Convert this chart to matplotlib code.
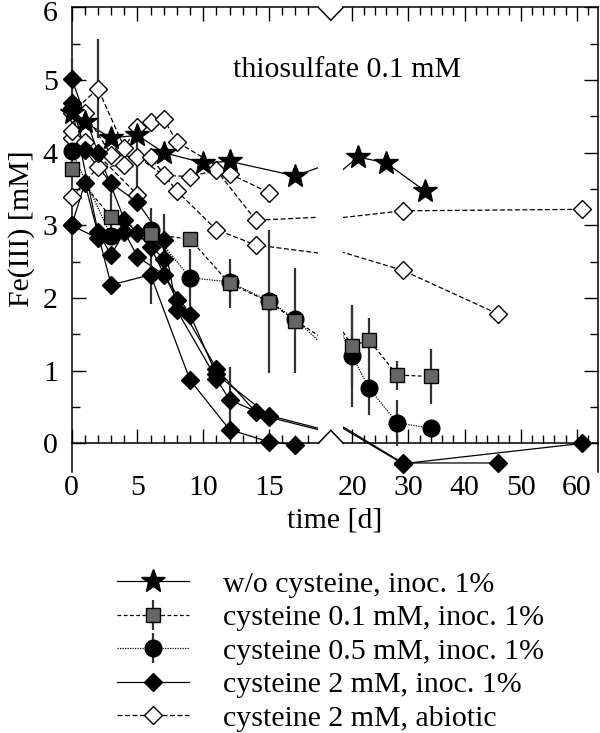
import numpy as np
import matplotlib.pyplot as plt
from matplotlib.ticker import MultipleLocator
from matplotlib.lines import Line2D
from matplotlib.transforms import ScaledTranslation

plt.rcParams['font.family'] = ['Liberation Serif', 'DejaVu Serif']
plt.rcParams['font.size'] = 21.5

# w/o cysteine, inoc. 1%
star_t = [0, 1, 3, 5, 7, 10, 12, 17, 21, 26, 33]
star_y = [4.55, 4.42, 4.2, 4.24, 4.0, 3.86, 3.88, 3.68, 3.94, 3.86, 3.47]

# cysteine 0.1 mM, inoc. 1%
sq_t = [0, 3, 6, 9, 12, 15, 17, 20, 23, 28, 34]
sq_y = [3.77, 3.11, 2.88, 2.81, 2.2, 1.95, 1.69, 1.34, 1.42, 0.94, 0.92]
sq_err = [0, 0.33, 0, 0, 0.34, 0.98, 0.72, 0.57, 0.3, 0.2, 0.38]

# cysteine 0.5 mM, inoc. 1%
circ_t = [0, 3, 6, 9, 12, 15, 17, 20, 23, 28, 34]
circ_y = [4.02, 2.85, 2.94, 2.28, 2.22, 1.96, 1.71, 1.2, 0.76, 0.28, 0.21]
circ_err = [0, 0, 0.3, 0.39, 0, 0, 0, 0.7, 0.37, 0.32, 0]

# cysteine 2 mM, inoc. 1% (replicates)
d1_t = [0, 2, 4, 6, 8, 11, 14, 29, 46]
d1_y = [5.02, 4.0, 3.08, 2.70, 1.97, 1.03, 0.43, -0.27, -0.27]
d1_err = [0.28, 0, 0, 0, 0, 0, 0, 0, 0]
d2_t = [0, 1, 3, 5, 7, 8, 11, 12, 15, 29, 61]
d2_y = [4.69, 4.03, 3.58, 3.32, 2.80, 1.83, 0.89, 0.6, 0.36, -0.28, 0.0]
d2_err = [0, 0, 0, 0, 0.35, 0, 0, 0.45, 0, 0, 0]
d3_t = [0, 1, 3, 6, 9, 12, 15, 17]
d3_y = [3.0, 3.58, 2.18, 2.32, 0.87, 0.19, 0.02, -0.02]
d3_err = [0, 0, 0, 0.4, 0, 0, 0, 0]
d4_t = [0, 2, 3, 4, 5, 7, 9, 11, 15]
d4_y = [4.62, 2.91, 2.59, 2.91, 2.57, 2.32, 1.77, 0.95, 0.38]
d5_t = [0, 2, 5, 7]
d5_y = [3.0, 2.82, 2.89, 2.54]

# cysteine 2 mM, abiotic (replicates)
o1_t = [0, 2, 4, 5, 6, 7, 8, 12, 15]
o1_y = [4.55, 4.88, 4.07, 4.36, 4.42, 4.46, 4.15, 3.71, 3.45]
o1_err = [0, 0.68, 0, 0, 0, 0, 0, 0, 0]
o2_t = [0, 1, 3, 5, 7, 9, 11, 14, 29, 61]
o2_y = [4.2, 4.54, 3.97, 3.94, 3.69, 3.67, 3.76, 3.07, 3.2, 3.22]
o2_err = [0, 0, 0, 0.5, 0, 0, 0, 0, 0, 0]
o3_t = [0, 2, 4, 6, 8, 11, 14, 29, 46]
o3_y = [3.39, 3.80, 3.83, 3.94, 3.47, 2.94, 2.73, 2.38, 1.78]
o4_t = [0, 1, 5]
o4_y = [4.3, 4.15, 3.42]

labels = ['w/o cysteine, inoc. 1%', 'cysteine 0.1 mM, inoc. 1%',
          'cysteine 0.5 mM, inoc. 1%', 'cysteine 2 mM, inoc. 1%',
          'cysteine 2 mM, abiotic']

BREAK = 18.6

fig = plt.figure(figsize=(6, 7.33), dpi=100)
ax1 = fig.add_axes([0.1195, 0.3555, 0.411, 0.6345])
ax2 = fig.add_axes([0.5722, 0.3555, 0.424, 0.6345])


def draw(t, y, err, ls, marker, ms, fc):
    t = np.asarray(t, float)
    y = np.asarray(y, float)
    err = np.zeros_like(y) if err is None else np.asarray(err, float)
    for ax, mask in ((ax1, t <= BREAK), (ax2, t > BREAK)):
        ax.plot(t, y, color='k', ls=ls, lw=0.9, zorder=2)
        m2 = mask & (err > 0)
        if m2.any():
            ax.errorbar(t[m2], y[m2], yerr=err[m2], fmt='none', ecolor='0.2',
                        elinewidth=1.6, capsize=0, clip_on=False, zorder=3)
        ax.plot(t[mask], y[mask], ls='none', marker=marker, ms=ms, mfc=fc,
                mec='k', mew=1, clip_on=False, zorder=4)


dash = (0, (4, 2))
dot = (0, (1, 1))
for t, y, e in ((o1_t, o1_y, o1_err), (o2_t, o2_y, o2_err),
                (o3_t, o3_y, None), (o4_t, o4_y, None)):
    draw(t, y, e, dash, 'D', 9, 'white')
for t, y, e in ((d1_t, d1_y, d1_err), (d2_t, d2_y, d2_err),
                (d3_t, d3_y, d3_err), (d4_t, d4_y, None), (d5_t, d5_y, None)):
    draw(t, y, e, '-', 'D', 9, 'k')
draw(circ_t, circ_y, circ_err, dot, 'o', 12, 'k')
draw(sq_t, sq_y, sq_err, (0, (3, 2)), 's', 10, '0.4')
draw(star_t, star_y, None, '-', '*', 18, 'k')

ax1.set_xlim(0, 18.75)
ax2.set_xlim(18.4, 63.74)
for ax in (ax1, ax2):
    ax.set_ylim(-0.4, 6)
    ax.spines['bottom'].set_position(('data', 0))
    for s in ax.spines.values():
        s.set_linewidth(1.1)
    ax.yaxis.set_major_locator(MultipleLocator(1))
    ax.yaxis.set_minor_locator(MultipleLocator(0.5))
    ax.tick_params(which='major', direction='in', length=10, width=1,
                   top=True, pad=23, labelsize=21.5)
    ax.tick_params(which='minor', direction='in', length=5.5, width=1, top=True)
    ax.tick_params(axis='y', pad=10)

ax1.xaxis.set_major_locator(MultipleLocator(5))
ax1.xaxis.set_minor_locator(MultipleLocator(1))
ax2.xaxis.set_major_locator(MultipleLocator(10))
ax2.xaxis.set_minor_locator(MultipleLocator(2))

ax1.spines['right'].set_visible(False)
ax2.spines['left'].set_visible(False)
ax2.tick_params(axis='y', which='both', left=False, right=True, labelleft=False)

ax1.set_ylabel('Fe(III) [mM]')
ax1.yaxis.set_label_coords(-0.15, 0.525)
fig.text(0.557, 0.29, 'time [d]', ha='center', va='center')
fig.text(0.388, 0.904, 'thiosulfate 0.1 mM', ha='left', va='center')

# nudge the top "6" label down a little so it stays inside the picture
fig.canvas.draw()
for lab in ax1.get_yticklabels():
    if lab.get_text() == '6':
        lab.set_transform(lab.get_transform() +
                          ScaledTranslation(0, -3 / 72, fig.dpi_scale_trans))

# axis break marks
p1 = ax1.get_position()
p2 = ax2.get_position()
xa, xb = p1.x1, p2.x0
xm = (xa + xb) / 2
ytop = p1.y1
y0 = fig.transFigure.inverted().transform(ax1.transData.transform((0, 0)))[1]
dv = 13 / 733
fig.add_artist(Line2D([xa, xm, xb], [ytop, ytop - dv, ytop], color='k', lw=1.1))
fig.add_artist(Line2D([xa, xm, xb], [y0, y0 + dv, y0], color='k', lw=1.1))

# legend
h_star = Line2D([], [], color='k', lw=0.9, marker='*', ms=18, mfc='k', mec='k')
h_sq = ax1.errorbar([np.nan], [np.nan], yerr=[0.5], fmt='s', ls=(0, (3, 2)),
                    color='k', lw=0.9, mfc='0.4', mec='k', ms=10, ecolor='0.2',
                    elinewidth=1.6, capsize=0)
h_ci = ax1.errorbar([np.nan], [np.nan], yerr=[0.5], fmt='o', ls=dot,
                    color='k', lw=0.9, mfc='k', mec='k', ms=12, ecolor='0.2',
                    elinewidth=1.6, capsize=0)
h_di = Line2D([], [], color='k', lw=0.9, marker='D', ms=9, mfc='k', mec='k')
h_od = Line2D([], [], color='k', lw=0.9, ls=dash, marker='D', ms=9,
              mfc='white', mec='k')
fig.legend([h_star, h_sq, h_ci, h_di, h_od], labels, loc='upper left',
           bbox_to_anchor=(0.195, 0.221), frameon=False, handlelength=2.4,
           handletextpad=1.15, labelspacing=0.22, borderpad=0,
           borderaxespad=0, fontsize=21.5)

fig.savefig('out.png', dpi=100, facecolor='white')
